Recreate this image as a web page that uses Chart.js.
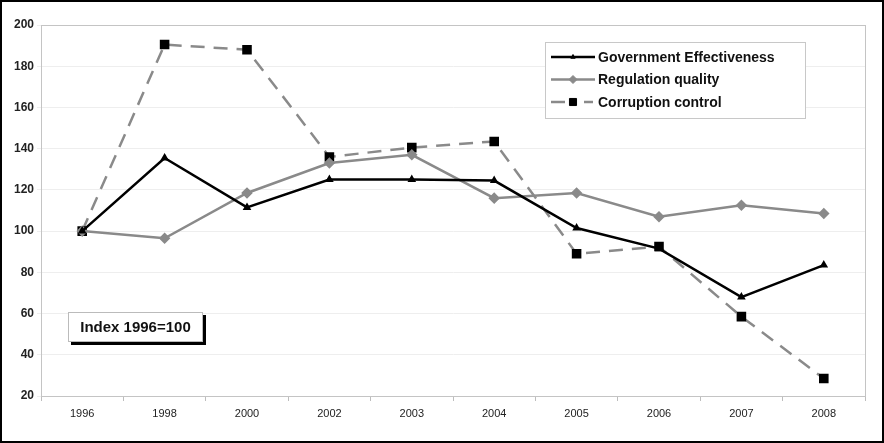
<!DOCTYPE html>
<html>
<head>
<meta charset="utf-8">
<script src="https://cdn.jsdelivr.net/npm/chart.js@4/dist/chart.umd.min.js"></script>
<style>
  html, body { margin: 0; padding: 0; background: #fff; }
  #frame { position: absolute; left: 0; top: 0; width: 884px; height: 443px; box-sizing: border-box; border: 2px solid #000; background: #fff; }
  #frame canvas { position: absolute; left: 0; top: 0; }
</style>
</head>
<body>
<div id="frame"><canvas id="c" width="880" height="439"></canvas></div>
<script>
const years = ['1996', '1998', '2000', '2002', '2003', '2004', '2005', '2006', '2007', '2008'];
const govEffectiveness = [100, 135.5, 111.5, 125, 125, 124.5, 101.5, 91.5, 68, 83.5];
const regulationQuality = [100, 96.5, 118.5, 133, 137, 116, 118.5, 107, 112.5, 108.5];
const corruptionControl = [100, 190.5, 188, 136, 140.5, 143.5, 89, 92.5, 58.5, 28.5];
const yTicks = [20, 40, 60, 80, 100, 120, 140, 160, 180, 200];

const FONT = '"Liberation Sans", Arial, sans-serif';

// Grey frame around the plot area
const plotFrame = {
  id: 'plotFrame',
  beforeDatasetsDraw(chart) {
    const { ctx, chartArea: ca } = chart;
    ctx.save();
    ctx.strokeStyle = '#c4c4c4';
    ctx.lineWidth = 1;
    ctx.strokeRect(Math.round(ca.left) + 0.5, Math.round(ca.top) + 0.5,
      Math.round(ca.right - ca.left), Math.round(ca.bottom - ca.top));
    ctx.restore();
  }
};

// Legend box and the index note, drawn inside the plot area
const overlay = {
  id: 'overlay',
  afterDraw(chart) {
    const ctx = chart.ctx;
    ctx.save();

    // legend frame
    const lx = 543, ly = 40, lw = 260, lh = 76;
    ctx.fillStyle = '#fff';
    ctx.fillRect(lx, ly, lw, lh);
    ctx.strokeStyle = '#c8c8c8';
    ctx.lineWidth = 1;
    ctx.strokeRect(lx + 0.5, ly + 0.5, lw, lh);

    const items = chart.data.datasets;
    ctx.font = 'bold 14px ' + FONT;
    ctx.textBaseline = 'middle';
    items.forEach((ds, i) => {
      const y = ly + 15 + i * 22.5;
      const x0 = lx + 6, x1 = lx + 50;
      ctx.strokeStyle = ds.borderColor;
      ctx.lineWidth = ds.borderWidth;
      ctx.setLineDash([]);
      if (ds.borderDash) {
        ctx.beginPath(); ctx.moveTo(x0, y); ctx.lineTo(x0 + 14, y); ctx.stroke();
        ctx.beginPath(); ctx.moveTo(x0 + 33, y); ctx.lineTo(x1 - 2, y); ctx.stroke();
      } else {
        ctx.beginPath(); ctx.moveTo(x0, y); ctx.lineTo(x1, y); ctx.stroke();
      }
      ctx.fillStyle = ds.pointBackgroundColor;
      ctx.strokeStyle = ds.pointBorderColor;
      ctx.lineWidth = 1;
      Chart.helpers.drawPoint(ctx, { pointStyle: ds.pointStyle, radius: ds.pointRadius, borderWidth: 1 }, (x0 + x1) / 2, y);
      ctx.fillStyle = '#111';
      ctx.fillText(ds.label, x1 + 3, y + 1);
    });

    // index note with drop shadow
    const bx = 66, by = 310, bw = 135, bh = 30;
    ctx.fillStyle = '#000';
    ctx.fillRect(bx + 3, by + 3, bw, bh);
    ctx.fillStyle = '#fff';
    ctx.fillRect(bx, by, bw, bh);
    ctx.strokeStyle = '#bbb';
    ctx.lineWidth = 1;
    ctx.strokeRect(bx + 0.5, by + 0.5, bw - 1, bh - 1);
    ctx.fillStyle = '#111';
    ctx.font = 'bold 15px ' + FONT;
    ctx.textAlign = 'center';
    ctx.fillText('Index 1996=100', bx + bw / 2, by + bh / 2 + 1);
    ctx.restore();
  }
};

new Chart(document.getElementById('c'), {
  type: 'line',
  data: {
    labels: years,
    datasets: [
      {
        label: 'Government Effectiveness',
        data: govEffectiveness,
        borderColor: '#000',
        borderWidth: 2.5,
        pointStyle: 'triangle',
        pointRadius: 2.5,
        pointBackgroundColor: '#000',
        pointBorderColor: '#000',
        tension: 0
      },
      {
        label: 'Regulation quality',
        data: regulationQuality,
        borderColor: '#8a8a8a',
        borderWidth: 2.5,
        pointStyle: 'rectRot',
        pointRadius: 4,
        pointBackgroundColor: '#8a8a8a',
        pointBorderColor: '#8a8a8a',
        tension: 0
      },
      {
        label: 'Corruption control',
        data: corruptionControl,
        borderColor: '#8a8a8a',
        borderWidth: 2.5,
        borderDash: [14, 9],
        pointStyle: 'rect',
        pointRadius: 5,
        pointBackgroundColor: '#000',
        pointBorderColor: '#000',
        tension: 0
      }
    ]
  },
  options: {
    responsive: false,
    animation: false,
    layout: { padding: { top: 23, right: 17, left: 0, bottom: 0 } },
    plugins: { legend: { display: false }, tooltip: { enabled: false } },
    scales: {
      x: {
        offset: true,
        grid: { offset: true, drawOnChartArea: false, color: '#bdbdbd', tickLength: 5 },
        border: { color: '#bdbdbd', width: 1 },
        ticks: { color: '#222', font: { family: FONT, size: 11 }, padding: 6, maxRotation: 0 },
        afterFit(s) { s.height = 45; }
      },
      y: {
        min: 20,
        max: 200,
        afterBuildTicks(s) { s.ticks = yTicks.map(v => ({ value: v })); },
        grid: { color: '#eeeeee', tickLength: 4 },
        border: { color: '#bdbdbd', width: 1 },
        ticks: { color: '#222', font: { family: FONT, size: 12, weight: 'bold' }, padding: 3 },
        afterFit(s) { s.width = 39; }
      }
    }
  },
  plugins: [plotFrame, overlay]
});
</script>
</body>
</html>
